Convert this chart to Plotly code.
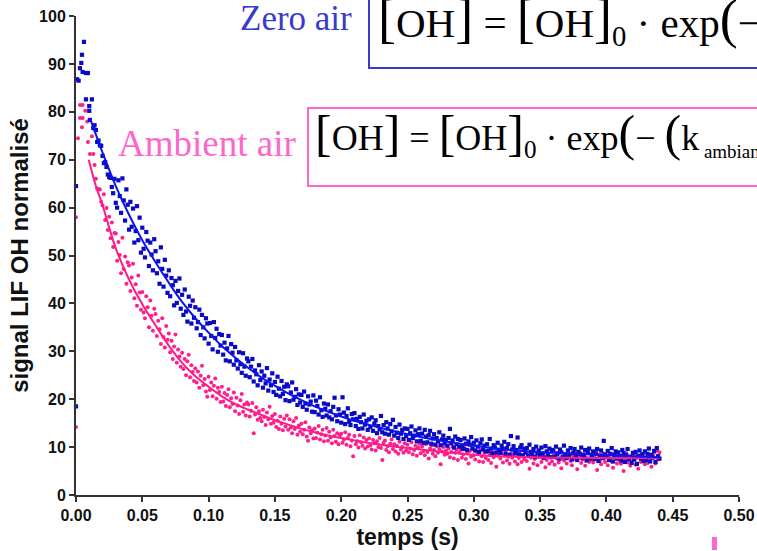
import numpy as np
import plotly.graph_objects as go

# ---------------- data ----------------
# early samples (t < 0.013 s)
blue_early_t = [0.0, 0.0, 0.0008, 0.002, 0.003, 0.004, 0.0045, 0.006, 0.005, 0.0075, 0.009, 0.0075, 0.012, 0.010, 0.010, 0.0105]
blue_early_v = [18.5, 64.5, 86.8, 86.5, 89.1, 90.2, 91.9, 94.6, 88.3, 88.1, 88.1, 82.6, 82.6, 81.2, 80.2, 78.3]
pink_early_t = [0.0, 0.0, 0.0015, 0.003, 0.005, 0.003, 0.005, 0.0085, 0.007, 0.0045, 0.009, 0.0105, 0.012]
pink_early_v = [14.2, 58.0, 74.5, 81.4, 81.4, 78.7, 78.7, 78.0, 80.2, 76.8, 73.7, 71.2, 74.9]

# main samples every 1 ms from t = 0.013 s to 0.440 s
sample_t0 = 0.013
sample_dt = 0.001
blue_main = [
    76.6, 77.2, 76.2, 73.7, 74.0, 73.0, 72.9,
    70.8, 69.3, 69.5, 68.5, 66.9, 66.4, 66.2, 64.3, 63.0, 66.0,
    61.0, 60.0, 65.7, 62.4, 58.9, 66.1, 61.5, 57.3, 63.8, 60.6,
    55.4, 61.2, 56.0, 59.8, 52.7, 55.1, 60.3, 53.2, 57.9, 50.6,
    55.8, 51.4, 49.6, 54.9, 53.1, 47.8, 52.7, 50.2, 46.9, 53.4,
    50.9, 46.3, 48.8, 44.1, 51.7, 47.2, 43.5, 49.1, 45.8, 42.2,
    46.9, 41.5, 45.3, 43.8, 39.6, 44.7, 40.1, 42.6, 45.2, 38.9,
    41.8, 37.6, 42.9, 38.3, 36.2, 41.4, 39.5, 35.8, 40.6, 37.0,
    39.2, 34.8, 36.1, 38.7, 33.4, 37.6, 35.0, 32.7, 36.9, 35.8,
    31.6, 35.9, 33.2, 30.4, 36.1, 32.8, 34.7, 29.9, 33.6, 31.2,
    33.4, 29.3, 31.8, 28.1, 30.6, 33.2, 27.9, 31.5, 29.7, 27.2,
    30.9, 28.1, 26.4, 29.8, 27.3, 25.5, 29.6, 26.8, 24.9, 28.5,
    27.9, 24.6, 26.8, 28.4, 23.7, 26.0, 25.2, 22.9, 27.1, 24.0,
    25.8, 22.4, 24.9, 23.3, 26.5, 21.8, 24.1, 22.9, 25.4, 21.5,
    23.6, 20.9, 24.7, 22.2, 20.6, 23.8, 21.1, 22.6, 19.8, 23.1,
    22.7, 19.6, 21.4, 23.5, 19.9, 20.5, 22.1, 18.8, 21.0, 19.3,
    20.9, 18.4, 21.6, 19.1, 17.8, 20.6, 18.9, 19.5, 17.4, 20.8,
    17.3, 19.7, 18.6, 16.8, 20.4, 17.7, 16.3, 19.1, 18.0, 16.6,
    18.9, 16.2, 17.5, 15.8, 18.4, 20.3, 16.6, 15.4, 17.9, 16.8,
    15.1, 20.4, 17.2, 14.8, 16.5, 18.1, 15.3, 14.6, 16.9, 15.8,
    17.1, 14.4, 15.9, 13.8, 16.3, 15.2, 13.9, 16.8, 14.7, 15.5,
    13.6, 15.8, 14.2, 16.2, 13.4, 14.9, 15.6, 12.9, 14.4, 13.7,
    16.5, 13.1, 14.6, 12.8, 15.2, 13.9, 12.6, 14.8, 13.3, 15.7,
    12.4, 14.2, 13.0, 11.9, 14.7, 12.8, 13.6, 11.7, 13.9, 12.3,
    13.8, 11.5, 12.9, 14.3, 11.9, 12.4, 13.5, 11.2, 12.7, 13.9,
    11.3, 12.8, 10.9, 13.6, 12.2, 11.0, 12.5, 13.4, 10.7, 11.8,
    12.7, 10.5, 11.9, 11.2, 13.1, 10.4, 11.6, 12.4, 10.8, 11.5,
    10.3, 11.9, 13.8, 10.8, 11.4, 9.9, 12.2, 10.6, 11.7, 10.1,
    11.5, 10.0, 9.6, 11.8, 10.7, 9.4, 11.2, 10.5, 12.1, 9.7,
    10.9, 9.3, 11.4, 10.1, 9.0, 10.8, 11.6, 9.5, 10.3, 9.1,
    10.6, 9.2, 11.7, 9.7, 8.7, 10.4, 9.9, 8.9, 10.9, 9.4,
    8.8, 10.3, 9.6, 11.1, 8.6, 9.8, 10.6, 8.4, 12.3, 9.5,
    10.2, 8.7, 9.4, 12.0, 8.5, 9.9, 10.4, 8.3, 9.6, 8.9,
    9.8, 8.2, 10.5, 9.0, 8.6, 9.6, 7.9, 10.1, 8.8, 9.3,
    8.4, 9.9, 8.7, 7.8, 10.2, 9.1, 8.3, 9.7, 7.9, 9.4,
    9.2, 8.0, 10.1, 8.6, 7.6, 9.5, 8.9, 7.9, 10.3, 8.5,
    7.7, 9.3, 8.4, 9.8, 7.4, 8.8, 9.6, 8.1, 7.3, 9.0,
    8.6, 9.9, 7.8, 8.3, 9.4, 7.2, 8.9, 9.7, 7.6, 8.4,
    9.1, 7.5, 8.7, 9.6, 7.1, 8.2, 9.3, 7.7, 11.3, 8.5,
    7.9, 9.2, 7.3, 8.6, 9.8, 7.0, 8.4, 9.1, 7.6, 8.9,
    8.1, 7.2, 9.4, 8.7, 6.9, 8.3, 9.6, 7.5, 8.0, 6.7,
    8.8, 7.4, 9.0, 6.5, 8.2, 9.3, 7.6, 8.5, 7.1, 9.1,
    7.3, 8.6, 9.7, 7.0, 8.4, 7.8, 9.2, 6.9, 9.8, 8.1,
    7.6,
]
pink_main = [
    71.2, 68.9, 66.0, 64.0, 63.9, 63.8, 61.2,
    60.5, 62.8, 57.4, 59.9, 55.3, 58.1, 53.6, 56.9, 51.8, 54.7,
    54.6, 48.9, 52.8, 50.1, 46.3, 53.7, 47.2, 49.8, 44.1, 48.6,
    47.9, 42.6, 45.4, 48.3, 41.1, 44.0, 39.5, 45.8, 42.3, 38.7,
    42.4, 38.1, 36.9, 41.5, 39.2, 35.0, 40.6, 37.4, 34.3, 38.9,
    37.8, 33.2, 36.4, 34.6, 31.5, 36.9, 33.0, 30.8, 35.3, 32.4,
    33.7, 29.8, 32.2, 28.4, 31.0, 33.5, 27.6, 30.4, 28.9, 26.8,
    29.7, 26.3, 28.4, 25.0, 27.9, 29.3, 24.6, 27.1, 25.7, 23.8,
    26.4, 23.5, 25.8, 22.4, 24.9, 27.0, 22.9, 24.2, 21.6, 20.5,
    24.7, 21.9, 23.5, 20.6, 22.8, 24.3, 20.1, 22.4, 21.5, 19.4,
    22.6, 19.5, 21.3, 18.6, 20.9, 22.1, 18.3, 20.2, 19.0, 21.4,
    17.5, 20.3, 18.7, 16.9, 19.8, 21.1, 17.4, 18.9, 16.6, 19.3,
    18.9, 16.4, 17.6, 19.2, 12.9, 16.8, 18.3, 15.7, 17.5, 16.1,
    15.4, 17.8, 16.3, 14.6, 17.2, 15.8, 18.4, 14.9, 16.5, 15.1,
    16.9, 14.2, 15.5, 13.8, 16.4, 14.9, 13.5, 15.9, 14.3, 16.6,
    13.6, 15.8, 14.1, 12.9, 15.4, 13.8, 16.1, 12.6, 14.5, 13.2,
    14.9, 12.7, 13.6, 15.2, 12.2, 11.3, 14.1, 12.9, 13.5, 11.8,
    13.9, 11.9, 13.0, 14.4, 11.6, 12.7, 13.6, 11.2, 12.4, 14.0,
    11.3, 13.2, 12.0, 10.8, 13.6, 12.3, 11.1, 12.9, 10.6, 12.5,
    12.8, 10.9, 11.6, 13.1, 10.5, 11.9, 12.6, 10.2, 11.4, 8.1,
    12.3, 10.6, 11.2, 9.9, 12.5, 11.0, 10.3, 12.0, 9.7, 11.5,
    10.1, 11.8, 10.4, 9.5, 11.5, 10.8, 9.3, 11.2, 10.0, 11.9,
    9.8, 7.3, 10.9, 11.4, 9.4, 10.2, 8.9, 10.7, 11.6, 9.6,
    10.6, 9.1, 10.3, 8.6, 11.1, 9.5, 10.0, 8.8, 10.8, 9.3,
    10.5, 8.9, 9.7, 11.0, 8.5, 9.4, 10.3, 8.2, 9.9, 10.7,
    8.7, 10.1, 9.2, 8.3, 10.6, 9.0, 7.6, 9.7, 10.4, 8.6,
    9.4, 8.1, 10.2, 8.8, 9.6, 6.4, 9.1, 10.0, 8.4, 9.3,
    8.6, 9.7, 7.9, 9.0, 10.1, 7.6, 8.8, 9.5, 7.3, 8.9,
    9.4, 7.8, 8.5, 9.9, 7.5, 8.7, 6.6, 9.2, 8.0, 9.6,
    8.3, 7.4, 9.1, 8.6, 7.0, 9.4, 8.1, 6.9, 8.8, 7.7,
    9.0, 7.3, 8.4, 6.7, 8.9, 7.9, 8.5, 5.9, 8.2, 9.3,
    7.6, 8.7, 6.8, 8.2, 9.1, 7.2, 8.0, 6.5, 8.6, 7.8,
    8.4, 7.0, 9.0, 6.4, 7.7, 8.5, 6.9, 8.1, 7.4, 8.8,
    7.1, 8.3, 5.5, 7.8, 8.6, 6.6, 7.5, 8.2, 6.2, 7.9,
    8.5, 6.9, 7.6, 8.1, 5.8, 7.3, 8.7, 6.5, 7.9, 7.0,
    8.2, 6.3, 7.7, 8.8, 6.8, 7.4, 5.6, 8.0, 7.2, 8.4,
    6.6, 7.9, 8.5, 7.1, 6.2, 8.3, 7.5, 8.9, 5.4, 7.7,
    8.1, 6.7, 7.4, 8.6, 6.1, 7.8, 8.9, 6.9, 7.3, 8.2,
    6.8, 8.0, 7.5, 5.2, 8.4, 7.1, 6.4, 8.7, 7.6, 6.9,
    8.3, 6.2, 7.7, 8.5, 7.0, 5.7, 7.9, 8.6, 6.6, 7.4,
    7.9, 6.5, 8.2, 5.0, 7.3, 8.7, 6.8, 7.6, 6.1, 8.1,
    7.2, 8.4, 6.3, 7.8, 5.5, 8.0, 6.9, 7.5, 8.6, 6.4,
    7.7, 6.7, 8.3, 7.1, 5.9, 8.1, 8.8, 6.6, 9.3, 7.4,
    8.9,
]

# fitted curves
blue_fit_t = [0.011, 0.02, 0.03, 0.04, 0.05, 0.06, 0.07, 0.08, 0.09, 0.10, 0.11, 0.12, 0.13, 0.14,
              0.15, 0.16, 0.17, 0.18, 0.19, 0.20, 0.21, 0.22, 0.23, 0.24, 0.25, 0.26, 0.27, 0.28,
              0.29, 0.30, 0.31, 0.32, 0.33, 0.34, 0.35, 0.36, 0.37, 0.38, 0.39, 0.40, 0.41, 0.42,
              0.43, 0.44]
blue_fit_v = [78.3, 71.5, 64.5, 58.5, 53.2, 48.6, 44.3, 40.3, 36.9, 33.9, 31.1, 28.7, 26.5, 24.5,
              22.8, 21.2, 19.8, 18.5, 17.4, 16.4, 15.5, 14.7, 14.0, 13.3, 12.7, 12.1, 11.6, 11.1,
              10.7, 10.3, 9.9, 9.6, 9.3, 9.1, 8.9, 8.8, 8.7, 8.6, 8.4, 8.3, 8.2, 8.1,
              8.0, 7.9]
pink_fit_t = [0.0096, 0.015, 0.02, 0.03, 0.04, 0.05, 0.06, 0.07, 0.08, 0.09, 0.10, 0.11, 0.12, 0.13,
              0.14, 0.15, 0.16, 0.17, 0.18, 0.19, 0.20, 0.21, 0.22, 0.23, 0.24, 0.25, 0.26, 0.27,
              0.28, 0.29, 0.30, 0.31, 0.32, 0.33, 0.34, 0.35, 0.36, 0.38, 0.40, 0.42, 0.44]
pink_fit_v = [70.0, 64.5, 60.5, 51.5, 45.0, 39.8, 35.4, 31.2, 27.6, 24.8, 22.6, 20.6, 19.0, 17.8,
              16.7, 15.6, 14.7, 13.8, 13.1, 12.4, 11.9, 11.4, 10.9, 10.5, 10.1, 9.8, 9.5, 9.2,
              8.9, 8.6, 8.4, 8.2, 8.1, 8.0, 7.9, 7.85, 7.8, 7.75, 7.75, 7.7, 7.7]

x_ticks = [0.0, 0.05, 0.10, 0.15, 0.20, 0.25, 0.30, 0.35, 0.40, 0.45, 0.50]
y_ticks = [0, 10, 20, 30, 40, 50, 60, 70, 80, 90, 100]

# ---------------- build ----------------
blue_t = blue_early_t + list(np.round(sample_t0 + sample_dt * np.arange(len(blue_main)), 4))
blue_v = blue_early_v + blue_main
pink_t = pink_early_t + list(np.round(sample_t0 + sample_dt * np.arange(len(pink_main)), 4))
pink_v = pink_early_v + pink_main

BLUE_PT = "#0a0ac4"
BLUE_LN = "#0a14f0"
PINK_PT = "#ff1f8a"
PINK_LN = "#ff1a86"

fig = go.Figure()
fig.add_trace(go.Scatter(x=pink_t, y=pink_v, mode="markers", cliponaxis=False, hoverinfo="skip",
                         marker=dict(symbol="circle", size=4, color=PINK_PT, line=dict(width=0))))
fig.add_trace(go.Scatter(x=blue_t, y=blue_v, mode="markers", cliponaxis=False, hoverinfo="skip",
                         marker=dict(symbol="square", size=4.2, color=BLUE_PT, line=dict(width=0))))
fig.add_trace(go.Scatter(x=pink_fit_t, y=pink_fit_v, mode="lines", hoverinfo="skip",
                         line=dict(color=PINK_LN, width=2, shape="spline")))
fig.add_trace(go.Scatter(x=blue_fit_t, y=blue_fit_v, mode="lines", hoverinfo="skip",
                         line=dict(color=BLUE_LN, width=2, shape="spline")))

L, R, T, B = 76, 18, 16, 56
W, H = 757, 551
PW, PH = W - L - R, H - T - B


def px(x):
    return (x - L) / PW


def py(y):
    return (H - B - y) / PH


axis_font = dict(family="Arial, Liberation Sans", size=16, color="#111", weight="bold")

fig.update_layout(
    template="none",
    width=W, height=H, autosize=False,
    margin=dict(l=L, r=R, t=T, b=B, pad=0),
    paper_bgcolor="white", plot_bgcolor="white",
    showlegend=False,
    xaxis=dict(range=[0, 0.5], tickvals=x_ticks, tickformat=".2f", showgrid=False, zeroline=False,
               automargin=False,
               showline=True, linewidth=2, linecolor="#333", ticks="outside", ticklen=5,
               tickwidth=2, tickcolor="#333", tickfont=axis_font,
               title=dict(text="temps (s)", font=dict(family="Arial, Liberation Sans", size=23,
                                                      color="#111", weight="bold"), standoff=6)),
    yaxis=dict(range=[0, 100], tickvals=y_ticks, showgrid=False, zeroline=False,
               automargin=False,
               showline=True, linewidth=2, linecolor="#333", ticks="outside", ticklen=5,
               tickwidth=2, tickcolor="#333", tickfont=axis_font,
               title=dict(text="signal LIF OH normalisé", font=dict(family="Arial, Liberation Sans", size=24,
                                                                   color="#111", weight="bold"), standoff=4)),
)

serif = "Liberation Serif, Times New Roman, serif"

# formula boxes
fig.add_shape(type="rect", xref="paper", yref="paper", x0=px(369), x1=px(800), y0=py(68), y1=py(-20),
              line=dict(color="#3a3acc", width=2), fillcolor="rgba(0,0,0,0)")
fig.add_shape(type="rect", xref="paper", yref="paper", x0=px(308), x1=px(800), y0=py(186), y1=py(108),
              line=dict(color="#ff66cc", width=2), fillcolor="rgba(0,0,0,0)")
# small pink mark at the bottom
fig.add_shape(type="rect", xref="paper", yref="paper", x0=px(712), x1=px(717), y0=py(550), y1=py(537),
              line=dict(width=0), fillcolor="#ff66cc")


def br(ch, size):
    return f"<span style='font-size:{size}px'>{ch}</span>"


blue_formula = (f"{br('[', 54)}OH{br(']', 54)} = {br('[', 54)}OH{br(']', 54)}<sub>0</sub> · exp{br('(', 54)}−")
pink_formula = (f"{br('[', 50)}OH{br(']', 50)} = {br('[', 50)}OH{br(']', 50)}<sub>0</sub> · exp{br('(', 50)}− "
                f"{br('(', 50)}k<sub><span style='font-size:19px'> ambiant</span></sub>")

fig.add_annotation(xref="paper", yref="paper", x=px(376), y=py(20), xanchor="left", yanchor="middle",
                   text=blue_formula, showarrow=False, font=dict(family=serif, size=41, color="black"))
fig.add_annotation(xref="paper", yref="paper", x=px(313), y=py(134), xanchor="left", yanchor="middle",
                   text=pink_formula, showarrow=False, font=dict(family=serif, size=36, color="black"))
fig.add_annotation(xref="paper", yref="paper", x=px(296), y=py(19), xanchor="center", yanchor="middle",
                   text="Zero air", showarrow=False, font=dict(family=serif, size=35, color="#3a3acc"))
fig.add_annotation(xref="paper", yref="paper", x=px(207), y=py(143), xanchor="center", yanchor="middle",
                   text="Ambient air", showarrow=False, font=dict(family=serif, size=37, color="#ff66cc"))

fig.write_html("out.html", config={"displayModeBar": False, "staticPlot": True},
               post_script="document.body.style.margin='0px';")
